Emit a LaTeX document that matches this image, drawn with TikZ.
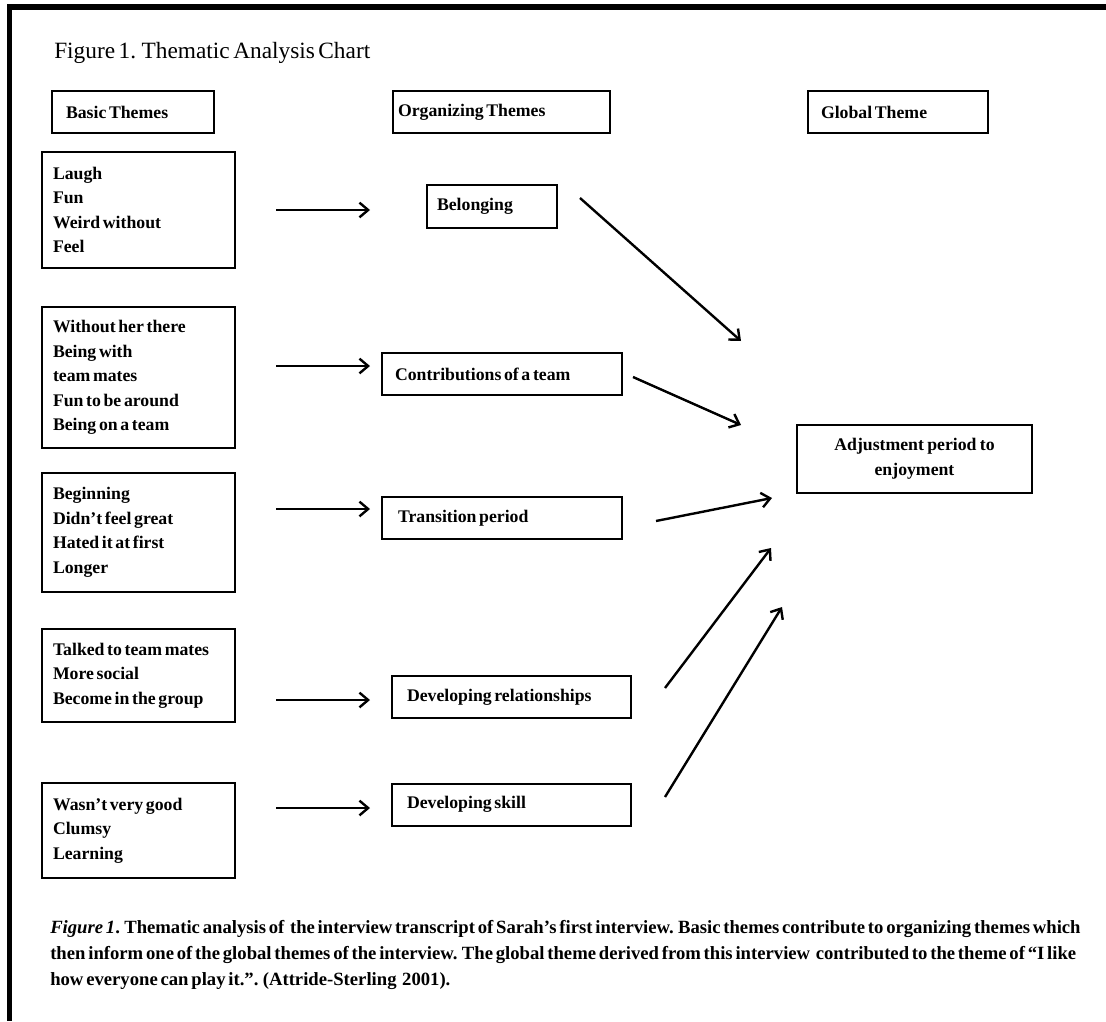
\documentclass[tikz,border=0pt]{standalone}
\usepackage{fontspec}
\setmainfont{Liberation Serif}[WordSpace=0.6]
\usetikzlibrary{arrows.meta,calc}

% tight interword spacing inside the labelled boxes
\newcommand{\tightwords}{\spaceskip=0.15em plus 0.05em\relax}

\begin{document}
\begin{tikzpicture}[x=0.75pt,y=-0.75pt,
  framing/.style={line width=3.8pt},
  boxtxt/.style={font=\fontsize{13.3}{18.4}\selectfont\bfseries,
    execute at begin node=\tightwords},
  basicbox/.style={draw,line width=1.5pt,boxtxt,align=left,inner ysep=0pt,
    inner xsep=8.25pt,text width=128.25pt},
  headbox/.style={draw,line width=1.5pt,boxtxt,align=left,inner ysep=0pt,
    minimum height=31.5pt},
  midbox/.style={draw,line width=1.5pt,boxtxt,align=left,inner ysep=0pt,
    minimum height=31.5pt},
  flow/.style={line width=1.8pt,-{Straight Barb[length=6.5pt,width=11pt,line width=1.8pt]}}
]
\useasboundingbox (0,0) rectangle (1106,1021);
\fill[white] (0,0) rectangle (1106,1021);

% outer frame: top rule and left rule only
\draw[framing] (7,7) -- (1106,7);
\draw[framing] (9.5,5) -- (9.5,1021);

% title
\node[anchor=base west,inner sep=0pt,font=\fontsize{17.5}{20}\selectfont] (title)
  at (54,58) {Figure 1. Thematic Analysis Chart};

% column headers
\node[headbox,inner xsep=10.5pt,text width=100.5pt] (hbasic) at (133,112) {Basic Themes};
\node[headbox,inner xsep=3.75pt,text width=155.25pt] (horg) at (501.5,112) {Organizing Themes};
\node[headbox,inner xsep=9.75pt,text width=115.5pt] (hglob) at (898,112) {Global Theme};

% basic themes
\node[basicbox,minimum height=87pt] (b1) at (138.5,210)
  {Laugh\\Fun\\Weird without\\Feel};
\node[basicbox,minimum height=105.75pt] (b2) at (138.5,377.5)
  {Without her there\\Being with\\team mates\\Fun to be around\\Being on a team};
\node[basicbox,minimum height=89.25pt] (b3) at (138.5,532.5)
  {Beginning\\Didn’t feel great\\Hated it at first\\Longer};
\node[basicbox,minimum height=69.75pt] (b4) at (138.5,675.5)
  {Talked to team mates\\More social\\Become in the group};
\node[basicbox,minimum height=71.25pt] (b5) at (138.5,830.5)
  {Wasn’t very good\\Clumsy\\Learning};

% organizing themes
\node[midbox,minimum height=32.25pt,inner xsep=7.5pt,text width=82.5pt] (bel) at (492,206.5) {Belonging};
\node[midbox,inner xsep=9.75pt,text width=160.5pt] (con) at (502,374) {Contributions of a team};
\node[midbox,inner xsep=12pt,text width=156pt] (tra) at (502,518) {Transition period};
\node[midbox,inner xsep=11.25pt,text width=156.75pt] (rel) at (511.5,697) {Developing relationships};
\node[midbox,inner xsep=11.25pt,text width=156.75pt] (ski) at (511.5,804.5) {Developing skill};

% global theme
\node[draw,line width=1.5pt,boxtxt,align=center,text width=160pt,inner xsep=8.125pt,
  inner ysep=0pt,minimum height=51pt] (glob) at (914.5,459)
  {Adjustment period to\\enjoyment};

% basic -> organizing
\draw[flow] ($(b1.east)+(40,0)$) -- ($(bel.west)+(-56,3.5)$);
\draw[flow] ($(b2.east)+(40,-11.5)$) -- ($(con.west)+(-11,-8)$);
\draw[flow] ($(b3.east)+(40,-23.5)$) -- ($(tra.west)+(-11,-9)$);
\draw[flow] ($(b4.east)+(40,24.5)$) -- ($(rel.west)+(-21,3)$);
\draw[flow] ($(b5.east)+(40,-22.5)$) -- ($(ski.west)+(-21,3.5)$);

% organizing -> global
\draw[flow] ($(bel.east)+(22,-8.5)$) -- ($(glob.north west)+(-55,-83)$);
\draw[flow] ($(con.east)+(10,3)$) -- ($(glob.west)+(-55,-34)$);
\draw[flow] ($(tra.east)+(33,3)$) -- ($(glob.south west)+(-24,4)$);
\draw[flow] ($(rel.east)+(33,-9)$) -- ($(glob.south west)+(-25,54)$);
\draw[flow] ($(ski.east)+(33,-7.5)$) -- ($(glob.south west)+(-14,113)$);

% caption
\node[anchor=north west,inner sep=0pt,align=left,
  font=\fontsize{14}{19.5}\selectfont\bfseries] (cap) at (50,920)
  {\textit{Figure 1}. Thematic analysis of\ \ the interview transcript of Sarah’s first interview. Basic themes contribute to organizing themes which\\
   then inform one of the global themes of the interview. The global theme derived from this interview\ \ contributed to the theme of “I like\\
   how everyone can play it.”. (Attride-Sterling\ \ 2001).};
\end{tikzpicture}
\end{document}
